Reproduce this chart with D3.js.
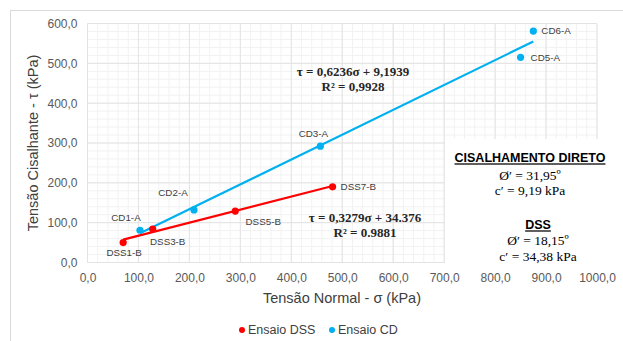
<!DOCTYPE html>
<html>
<head>
<meta charset="utf-8">
<script src="https://cdn.jsdelivr.net/npm/d3@7"></script>
<style>
  body { margin: 0; background: #fff; }
  svg { display: block; }
</style>
</head>
<body>
<script>
// data
const dssNames = ['DSS1-B', 'DSS3-B', 'DSS5-B', 'DSS7-B'];
const dssSigma = [70, 128, 290, 481];
const dssTau = [50, 84, 129, 190];

const cdNames = ['CD1-A', 'CD2-A', 'CD3-A', 'CD5-A', 'CD6-A'];
const cdSigma = [103, 209, 457, 850, 875];
const cdTau = [81, 132, 292, 515, 581];

// trend lines (slope, intercept) as printed on the chart
const cdFit = [0.6236, 9.1939];
const dssFit = [0.3279, 34.376];

const xTicks = [0, 100, 200, 300, 400, 500, 600, 700, 800, 900, 1000];
const yTicks = [0, 100, 200, 300, 400, 500, 600];

const W = 623, H = 341;
const red = '#ff0000', blue = '#00b0f0';
const sans = 'Liberation Sans, Arial, sans-serif';
const serif = 'Liberation Serif, Times New Roman, serif';

const svg = d3.select('body').append('svg').attr('width', W).attr('height', H);

// outer chart border
svg.append('rect').attr('x', 10.5).attr('y', 10.5).attr('width', W).attr('height', H)
  .attr('fill', '#fff').attr('stroke', '#d9d9d9');

const x = d3.scaleLinear().domain([0, 1000]).range([87.5, 597]);
const y = d3.scaleLinear().domain([0, 600]).range([262.5, 23.5]);

const pt = d3.formatLocale({decimal: ',', thousands: '.', grouping: [3], currency: ['', '']});
const fmt = pt.format('.1f');

// minor grid
const grid = svg.append('g');
grid.selectAll('.mx').data(d3.range(0, 1001, 20)).enter().append('line')
  .attr('x1', d => x(d)).attr('x2', d => x(d)).attr('y1', y(0)).attr('y2', y(600))
  .attr('stroke', '#f2f2f2');
grid.selectAll('.my').data(d3.range(0, 601, 20)).enter().append('line')
  .attr('y1', d => y(d)).attr('y2', d => y(d)).attr('x1', x(0)).attr('x2', x(1000))
  .attr('stroke', '#f2f2f2');
// major grid
grid.selectAll('.gx').data(xTicks).enter().append('line')
  .attr('x1', d => x(d)).attr('x2', d => x(d)).attr('y1', y(0)).attr('y2', y(600))
  .attr('stroke', '#e3e3e3');
grid.selectAll('.gy').data(yTicks).enter().append('line')
  .attr('y1', d => y(d)).attr('y2', d => y(d)).attr('x1', x(0)).attr('x2', x(1000))
  .attr('stroke', '#e3e3e3');

// axes (labels only, like Excel)
const xAxis = svg.append('g').attr('transform', `translate(0,${y(0)})`)
  .call(d3.axisBottom(x).tickValues(xTicks).tickFormat(fmt).tickSize(0).tickPadding(11));
const yAxis = svg.append('g').attr('transform', `translate(${x(0)},0)`)
  .call(d3.axisLeft(y).tickValues(yTicks).tickFormat(fmt).tickSize(0).tickPadding(10));
[xAxis, yAxis].forEach(a => {
  a.select('.domain').remove();
  a.selectAll('text').attr('fill', '#595959').style('font-family', sans).style('font-size', '12px');
});

svg.append('text').text('Tensão Normal - σ (kPa)')
  .attr('x', 342).attr('y', 303).attr('text-anchor', 'middle')
  .style('font-family', sans).style('font-size', '14.5px').attr('fill', '#404040');
svg.append('text').text('Tensão Cisalhante - τ (kPa)')
  .attr('transform', 'translate(38,143) rotate(-90)').attr('text-anchor', 'middle')
  .style('font-family', sans).style('font-size', '14.5px').attr('fill', '#404040');

// trend lines
function trend(fit, xs, color) {
  const ext = d3.extent(xs);
  svg.append('line')
    .attr('x1', x(ext[0])).attr('y1', y(fit[0] * ext[0] + fit[1]))
    .attr('x2', x(ext[1])).attr('y2', y(fit[0] * ext[1] + fit[1]))
    .attr('stroke', color).attr('stroke-width', 2.2);
}
trend(cdFit, cdSigma, blue);
trend(dssFit, dssSigma, red);

// points
function dots(xs, ys, color) {
  svg.append('g').selectAll('circle').data(xs).enter().append('circle')
    .attr('cx', d => x(d)).attr('cy', (d, i) => y(ys[i])).attr('r', 3.6)
    .attr('fill', color);
}
dots(cdSigma, cdTau, blue);
dots(dssSigma, dssTau, red);

// point labels: [dx, dy, anchor]
const cdLab = [[-14, -13, 'middle'], [-21, -17, 'middle'], [-7, -13, 'middle'], [10, 0, 'start'], [8, 0, 'start']];
const dssLab = [[1, 10, 'middle'], [15, 13, 'middle'], [28, 10, 'middle'], [8, 0, 'start']];
function labels(names, xs, ys, off) {
  svg.append('g').selectAll('text').data(names).enter().append('text')
    .text(d => d)
    .attr('x', (d, i) => x(xs[i]) + off[i][0])
    .attr('y', (d, i) => y(ys[i]) + off[i][1])
    .attr('dy', '0.35em').attr('text-anchor', (d, i) => off[i][2])
    .style('font-family', sans).style('font-size', '9.8px').attr('fill', '#404040');
}
labels(cdNames, cdSigma, cdTau, cdLab);
labels(dssNames, dssSigma, dssTau, dssLab);

// equations
function eq(lines, cx, cy) {
  lines.forEach((t, i) => {
    svg.append('text').text(t).attr('x', cx).attr('y', cy + i * 15)
      .attr('text-anchor', 'middle').attr('dy', '0.35em')
      .style('font-family', serif).style('font-weight', 'bold').style('font-size', '13px')
      .attr('fill', '#262626');
  });
}
eq(['τ = 0,6236σ + 9,1939', 'R² = 0,9928'], 353, 71);
eq(['τ = 0,3279σ + 34.376', 'R² = 0.9881'], 365, 217);

// parameters box
svg.append('rect').attr('x', 445).attr('y', 139).attr('width', 170).attr('height', 124).attr('fill', '#fff');
function head(t, cx, cy) {
  svg.append('text').text(t).attr('x', cx).attr('y', cy).attr('dy', '0.35em')
    .attr('text-anchor', 'middle').style('font-family', sans).style('font-weight', 'bold')
    .style('font-size', '12.5px').style('text-decoration', 'underline').attr('fill', '#000');
}
function par(t, cx, cy) {
  svg.append('text').text(t).attr('x', cx).attr('y', cy).attr('dy', '0.35em')
    .attr('text-anchor', 'middle').style('font-family', serif)
    .style('font-size', '13.5px').attr('fill', '#000');
}
head('CISALHAMENTO DIRETO', 530, 158);
par('Ø′ = 31,95º', 530, 175);
par('c′ = 9,19 kPa', 530, 190);
head('DSS', 538, 225);
par('Ø′ = 18,15º', 538, 240.5);
par('c′ = 34,38 kPa', 538, 256);

// legend
const leg = [['Ensaio DSS', red, 242], ['Ensaio CD', blue, 332]];
leg.forEach(l => {
  svg.append('circle').attr('cx', l[2]).attr('cy', 330).attr('r', 3).attr('fill', l[1]);
  svg.append('text').text(l[0]).attr('x', l[2] + 6).attr('y', 330).attr('dy', '0.35em')
    .style('font-family', sans).style('font-size', '12.5px').attr('fill', '#404040');
});
</script>
</body>
</html>
